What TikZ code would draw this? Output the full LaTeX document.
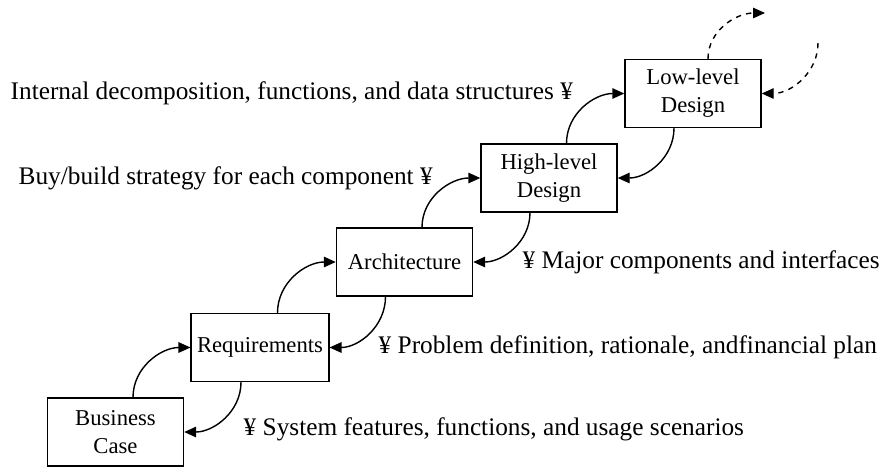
\documentclass[tikz,border=0pt]{standalone}
\usepackage{fontspec}
\setmainfont{Liberation Serif}
\usetikzlibrary{arrows.meta, positioning}

\begin{document}
\begin{tikzpicture}[>={Triangle[length=0.24cm,width=0.21cm]}, line width=0.8pt,
  box/.style={draw, rectangle, minimum width=2.72cm, minimum height=1.36cm, align=center, font=\fontsize{12.9}{16}\selectfont},
  lbl/.style={anchor=west, inner sep=0pt, font=\fontsize{14.4}{17}\selectfont}]
\useasboundingbox (0,0) rectangle (17.72,9.34);
% Nodes
\node[box] (bcase) at (2.31,0.70) {Business\\Case};
\node[box] (req) at (5.20,2.39) {Requirements};
\node[box] (arch) at (8.09,4.10) {Architecture};
\node[box] (hld) at (10.98,5.78) {High-level\\Design};
\node[box] (lld) at (13.86,7.47) {Low-level\\Design};
\coordinate (nextup) at (15.30,9.08);
\coordinate (nextdown) at (16.36,8.48);

% Arrows
\draw[->] ([xshift=0.35cm]bcase.north) to[out=90,in=180] (req.west);
\draw[->] ([xshift=0.35cm]req.north) to[out=90,in=180] (arch.west);
\draw[->] ([xshift=0.35cm]arch.north) to[out=90,in=180] (hld.west);
\draw[->] ([xshift=0.35cm]hld.north) to[out=90,in=180] (lld.west);
\draw[->] ([xshift=-0.38cm]req.south) to[out=-90,in=0] (bcase.east);
\draw[->] ([xshift=-0.38cm]arch.south) to[out=-90,in=0] (req.east);
\draw[->] ([xshift=-0.38cm]hld.south) to[out=-90,in=0] (arch.east);
\draw[->] ([xshift=-0.38cm]lld.south) to[out=-90,in=0] (hld.east);
\draw[->, dashed] ([xshift=0.3cm]lld.north) to[out=90,in=180] (nextup);
\draw[->, dashed] (nextdown) to[out=-90,in=0] (lld.east);

% Annotations
\node[lbl] (lbl1) at (0.20,7.47) {Internal decomposition, functions, and data structures ¥};
\node[lbl] (lbl2) at (0.36,5.78) {Buy/build strategy for each component ¥};
\node[lbl] (lbl3) at (10.44,4.10) {¥ Major components and interfaces};
\node[lbl] (lbl4) at (7.56,2.39) {¥ Problem definition, rationale, andfinancial plan};
\node[lbl] (lbl5) at (4.86,0.76) {¥ System features, functions, and usage scenarios};
\end{tikzpicture}
\end{document}
